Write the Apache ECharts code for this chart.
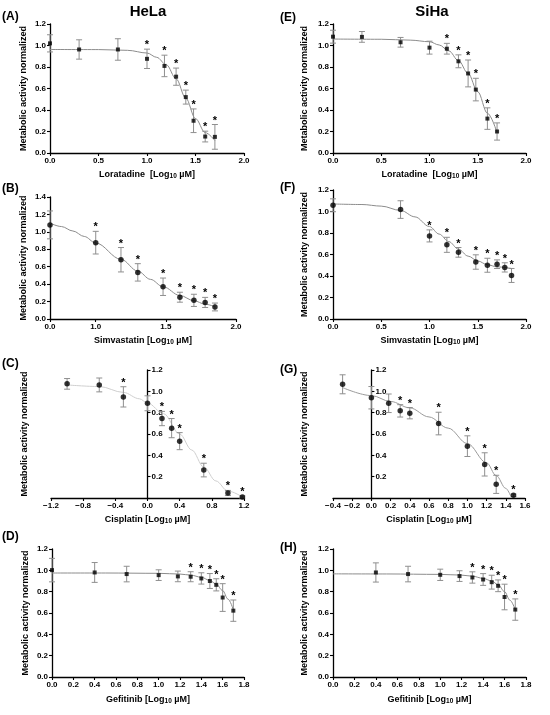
<!DOCTYPE html>
<html>
<head>
<meta charset="utf-8"/>
<title>Metabolic activity – HeLa / SiHa</title>
<script src="https://cdn.jsdelivr.net/npm/echarts@6/dist/echarts.min.js"></script>
<style>
    html, body { margin: 0; padding: 0; background: #fff; }
    #main { width: 550px; height: 715px; }
</style>
</head>
<body>
<div id="main"></div>
<script>
// ---- data (log10 dose, mean, sd, significance flag, fitted curve) ----

// (A) HeLa - Loratadine
var loraHelaDose = [0, 0.30, 0.70, 1.00, 1.18, 1.30, 1.40, 1.48, 1.60, 1.70];
var loraHelaMean = [1.02, 0.963, 0.963, 0.876, 0.81, 0.71, 0.52, 0.30, 0.153, 0.15];
var loraHelaSD   = [0.08, 0.09, 0.10, 0.09, 0.10, 0.08, 0.065, 0.11, 0.05, 0.115];
var loraHelaSig  = [0, 0, 0, 1, 1, 1, 1, 1, 1, 1];
var loraHelaFitX = [0, 0.5, 0.8, 1.0, 1.1, 1.2, 1.3, 1.4, 1.5, 1.6, 1.7];
var loraHelaFitY = [0.963, 0.962, 0.955, 0.93, 0.89, 0.82, 0.69, 0.51, 0.32, 0.19, 0.115];

// (B) HeLa - Simvastatin
var simvHelaDose = [0, 1.00, 1.18, 1.30, 1.48, 1.60, 1.70, 1.78, 1.85];
var simvHelaMean = [1.08, 0.876, 0.68, 0.535, 0.37, 0.25, 0.214, 0.19, 0.138];
var simvHelaSD   = [0.16, 0.13, 0.14, 0.10, 0.10, 0.057, 0.07, 0.058, 0.045];
var simvHelaSig  = [0, 1, 1, 1, 1, 1, 1, 1, 1];
var simvHelaFitX = [0, 0.25, 0.5, 0.75, 1.0, 1.18, 1.3, 1.39, 1.48, 1.6, 1.7, 1.78, 1.85];
var simvHelaFitY = [1.1, 1.061, 1.01, 0.947, 0.872, 0.685, 0.55, 0.455, 0.37, 0.27, 0.21, 0.17, 0.14];

// (C) HeLa - Cisplatin
var cispHelaDose = [-1.0, -0.6, -0.3, 0, 0.18, 0.30, 0.40, 0.70, 1.00, 1.18];
var cispHelaMean = [1.07, 1.06, 0.948, 0.888, 0.745, 0.655, 0.533, 0.262, 0.047, 0.009];
var cispHelaSD   = [0.05, 0.065, 0.095, 0.07, 0.067, 0.09, 0.08, 0.064, 0.024, 0.01];
var cispHelaSig  = [0, 0, 1, 0, 1, 1, 1, 1, 1, 1];
var cispHelaFitX = [-1.0, -0.6, -0.3, -0.1, 0, 0.2, 0.4, 0.55, 0.7, 0.85, 1.0, 1.18];
var cispHelaFitY = [1.06, 1.045, 0.99, 0.93, 0.89, 0.79, 0.6, 0.45, 0.29, 0.16, 0.065, 0.01];

// (D) HeLa - Gefitinib
var gefiHelaDose = [0, 0.40, 0.70, 1.00, 1.18, 1.30, 1.40, 1.48, 1.54, 1.60, 1.70];
var gefiHelaMean = [1.002, 0.98, 0.965, 0.955, 0.943, 0.94, 0.924, 0.90, 0.864, 0.745, 0.622];
var gefiHelaSD   = [0.11, 0.093, 0.073, 0.05, 0.05, 0.047, 0.053, 0.07, 0.057, 0.13, 0.10];
var gefiHelaSig  = [0, 0, 0, 0, 0, 1, 1, 1, 1, 1, 1];
var gefiHelaFitX = [0, 0.5, 1.0, 1.2, 1.3, 1.4, 1.48, 1.54, 1.6, 1.65, 1.7];
var gefiHelaFitY = [0.975, 0.975, 0.972, 0.965, 0.955, 0.935, 0.905, 0.87, 0.81, 0.73, 0.63];

// (E) SiHa - Loratadine
var loraSihaDose = [0, 0.30, 0.70, 1.00, 1.18, 1.30, 1.40, 1.48, 1.60, 1.70];
var loraSihaMean = [1.082, 1.08, 1.03, 0.98, 0.97, 0.853, 0.74, 0.59, 0.32, 0.20];
var loraSihaSD   = [0.06, 0.05, 0.045, 0.06, 0.05, 0.06, 0.125, 0.105, 0.10, 0.08];
var loraSihaSig  = [0, 0, 0, 0, 1, 1, 1, 1, 1, 1];
var loraSihaFitX = [0, 0.5, 0.8, 1.0, 1.1, 1.2, 1.3, 1.4, 1.5, 1.6, 1.7];
var loraSihaFitY = [1.06, 1.058, 1.05, 1.035, 1.005, 0.95, 0.86, 0.74, 0.57, 0.37, 0.19];

// (F) SiHa - Simvastatin
var simvSihaDose = [0, 0.70, 1.00, 1.18, 1.30, 1.48, 1.60, 1.70, 1.78, 1.85];
var simvSihaMean = [1.058, 1.018, 0.773, 0.69, 0.62, 0.53, 0.50, 0.51, 0.48, 0.405];
var simvSihaSD   = [0.06, 0.082, 0.056, 0.07, 0.045, 0.067, 0.065, 0.04, 0.043, 0.065];
var simvSihaSig  = [0, 0, 1, 1, 1, 1, 1, 1, 1, 1];
var simvSihaFitX = [0, 0.3, 0.5, 0.7, 0.85, 1.0, 1.1, 1.2, 1.3, 1.4, 1.5, 1.6, 1.7, 1.85];
var simvSihaFitY = [1.07, 1.065, 1.05, 1.01, 0.95, 0.86, 0.79, 0.72, 0.65, 0.585, 0.54, 0.505, 0.485, 0.47];

// (G) SiHa - Cisplatin
var cispSihaDose = [-0.3, 0, 0.18, 0.30, 0.40, 0.70, 1.00, 1.18, 1.30, 1.48];
var cispSihaMean = [1.066, 0.94, 0.888, 0.817, 0.795, 0.698, 0.486, 0.315, 0.128, 0.025];
var cispSihaSD   = [0.089, 0.105, 0.087, 0.058, 0.053, 0.106, 0.097, 0.109, 0.085, 0.012];
var cispSihaSig  = [0, 0, 0, 1, 1, 1, 1, 1, 1, 1];
var cispSihaFitX = [-0.3, 0, 0.2, 0.4, 0.6, 0.8, 1.0, 1.2, 1.3, 1.4, 1.45];
var cispSihaFitY = [1.035, 0.96, 0.905, 0.845, 0.76, 0.655, 0.51, 0.33, 0.21, 0.09, 0.02];

// (H) SiHa - Gefitinib
var gefiSihaDose = [0.40, 0.70, 1.00, 1.18, 1.30, 1.40, 1.48, 1.54, 1.60, 1.70];
var gefiSihaMean = [0.98, 0.965, 0.958, 0.946, 0.933, 0.914, 0.889, 0.855, 0.75, 0.632];
var gefiSihaSD   = [0.09, 0.073, 0.053, 0.05, 0.053, 0.055, 0.065, 0.055, 0.12, 0.10];
var gefiSihaSig  = [0, 0, 0, 0, 1, 1, 1, 1, 1, 1];
var gefiSihaFitX = [0, 0.5, 1.0, 1.2, 1.3, 1.4, 1.48, 1.54, 1.6, 1.65, 1.7];
var gefiSihaFitY = [0.967, 0.966, 0.962, 0.955, 0.945, 0.925, 0.90, 0.865, 0.80, 0.72, 0.63];

// tick labels of the segmented x axis in (B)
var simvHelaXTicks = [0, 1.0, 1.5, 2.0];

// ---- drawing ----
var FONT = '"Liberation Sans", Arial, sans-serif';
var YNAME = 'Metabolic activity normalized';

// panel (B) has a compressed 0..1 segment on its x axis
var BK = 0.326;
function squeeze(v) { return v <= 1 ? v * BK : BK + (v - 1); }
function unsqueeze(t) { return t <= BK + 1e-9 ? t / BK : t - BK + 1; }

function fmt1(v) {
    var s = Math.abs(v).toFixed(1);
    return v < -1e-9 ? '\u2212' + s : s;
}

var nameStyle = {
    color: '#000', fontSize: 9, fontWeight: 'bold', fontFamily: FONT,
    rich: { sub: { fontSize: 6.5, fontWeight: 'bold', fontFamily: FONT, verticalAlign: 'bottom', padding: [3, 0, 0, 0] } }
};

function renderErr(params, api) {
    var x = api.value(0), y = api.value(1), e = api.value(2), sig = api.value(3);
    var hi = api.coord([x, y + e]), lo = api.coord([x, y - e]);
    var w = 3;
    var st = { stroke: '#8f8f8f', lineWidth: 1 };
    var kids = [];
    if (e > 0) {
        kids.push({ type: 'line', shape: { x1: hi[0], y1: hi[1], x2: lo[0], y2: lo[1] }, style: st });
        kids.push({ type: 'line', shape: { x1: hi[0] - w, y1: hi[1], x2: hi[0] + w, y2: hi[1] }, style: st });
        kids.push({ type: 'line', shape: { x1: lo[0] - w, y1: lo[1], x2: lo[0] + w, y2: lo[1] }, style: st });
    }
    if (sig) {
        kids.push({ type: 'text', style: {
            text: '*', x: hi[0], y: hi[1] - 4, align: 'center', verticalAlign: 'middle',
            font: 'bold 11px ' + FONT, fill: '#000'
        } });
    }
    return { type: 'group', children: kids };
}

var grids = [], xAxes = [], yAxes = [], series = [], extraY = [];

function addPanel(p) {
    var gi = grids.length;
    var tx = p.tx || function (v) { return v; };
    grids.push({ left: p.left, top: p.top, width: p.width, height: p.height });

    var xa = {
        type: 'value', gridIndex: gi, min: p.xMin, max: p.xMax, interval: p.xStep,
        name: p.xName, nameLocation: 'middle', nameGap: p.xGap || 17, nameTextStyle: nameStyle,
        axisLine: { onZero: false, lineStyle: { color: '#000', width: 1.3 } },
        axisTick: { length: 3, lineStyle: { color: '#000', width: 1.1 } },
        axisLabel: { color: '#000', fontSize: 8, fontWeight: 'bold', fontFamily: FONT, margin: 4,
            formatter: p.xFmt || fmt1, showMinLabel: true, showMaxLabel: true },
        splitLine: { show: false }
    };
    if (p.xTicks) {
        delete xa.interval;
        xa.axisLabel.customValues = p.xTicks.map(tx);
        xa.axisTick.customValues = p.xTicks.map(tx);
    }
    xAxes.push(xa);

    // for the cisplatin panels the y axis crosses at dose 0, labels on its right
    var cross = !!p.cross;
    var ya = {
        type: 'value', gridIndex: gi, min: 0, max: p.yMax, interval: 0.2, position: 'left',
        offset: cross ? -p.width * (0 - p.xMin) / (p.xMax - p.xMin) : 0,
        axisLine: { onZero: false, lineStyle: { color: '#000', width: 1.3 } },
        axisTick: { length: 3, inside: cross, lineStyle: { color: '#000', width: 1.1 } },
        axisLabel: { color: '#000', fontSize: 8, fontWeight: 'bold', fontFamily: FONT, margin: 4,
            inside: cross,
            formatter: function (v) { return (cross && v === 0) ? '' : v.toFixed(1); } },
        splitLine: { show: false }
    };
    if (!cross) {
        ya.name = YNAME; ya.nameLocation = 'middle'; ya.nameGap = p.yGap || 22;
        ya.nameTextStyle = nameStyle;
    } else {
        // name holder sitting at the grid's left edge
        extraY.push({
            type: 'value', gridIndex: gi, min: 0, max: p.yMax, position: 'left',
            name: YNAME, nameLocation: 'middle', nameGap: p.yGap || 22, nameTextStyle: nameStyle,
            axisLine: { show: false, onZero: false }, axisTick: { show: false },
            axisLabel: { show: false }, splitLine: { show: false }
        });
    }
    yAxes.push(ya);

    series.push({
        type: 'line', xAxisIndex: gi, yAxisIndex: gi, z: 2, silent: true,
        showSymbol: false, smooth: 0.35, smoothMonotone: 'x',
        lineStyle: { color: p.fitColor || '#8c8c8c', width: 1 },
        data: p.fitX.map(function (d, i) { return [tx(d), p.fitY[i]]; })
    });
    series.push({
        type: 'custom', xAxisIndex: gi, yAxisIndex: gi, z: 3, silent: true, clip: false,
        renderItem: renderErr, encode: { x: 0, y: 1 },
        data: p.dose.map(function (d, i) { return [tx(d), p.mean[i], p.sd[i], p.sig[i]]; })
    });
    series.push({
        type: 'scatter', xAxisIndex: gi, yAxisIndex: gi, z: 4, silent: true,
        symbol: p.symbol, symbolSize: p.size, itemStyle: { color: '#000' },
        data: p.dose.map(function (d, i) { return [tx(d), p.mean[i]]; })
    });
}

function xName(drug) { return drug + '[Log{sub|10} \u00b5M]'; }

// left column: HeLa
addPanel({ left: 50, top: 24, width: 194, height: 129, xMin: 0, xMax: 2, xStep: 0.5, yMax: 1.2,
    xName: xName('Loratadine  '), dose: loraHelaDose, mean: loraHelaMean, sd: loraHelaSD, sig: loraHelaSig,
    fitX: loraHelaFitX, fitY: loraHelaFitY, symbol: 'rect', size: 4 });
addPanel({ left: 50, top: 197, width: 186, height: 122, xMin: 0, xMax: squeeze(2), yMax: 1.4,
    xTicks: simvHelaXTicks, tx: squeeze, xFmt: function (v) { return unsqueeze(v).toFixed(1); },
    xName: xName('Simvastatin '), dose: simvHelaDose, mean: simvHelaMean, sd: simvHelaSD, sig: simvHelaSig,
    fitX: simvHelaFitX, fitY: simvHelaFitY, symbol: 'circle', size: 5.5 });
addPanel({ left: 51, top: 370, width: 193, height: 128, xMin: -1.2, xMax: 1.2, xStep: 0.4, yMax: 1.2, cross: true,
    xName: xName('Cisplatin '), dose: cispHelaDose, mean: cispHelaMean, sd: cispHelaSD, sig: cispHelaSig,
    fitX: cispHelaFitX, fitY: cispHelaFitY, symbol: 'circle', size: 5.5, fitColor: '#cfcfcf' });
addPanel({ left: 52, top: 549, width: 192, height: 128, xMin: 0, xMax: 1.8, xStep: 0.2, yMax: 1.2,
    xName: xName('Gefitinib '), dose: gefiHelaDose, mean: gefiHelaMean, sd: gefiHelaSD, sig: gefiHelaSig,
    fitX: gefiHelaFitX, fitY: gefiHelaFitY, symbol: 'rect', size: 4, xGap: 18 });

// right column: SiHa
addPanel({ left: 333, top: 24, width: 193, height: 129, xMin: 0, xMax: 2, xStep: 0.5, yMax: 1.2,
    xName: xName('Loratadine  '), dose: loraSihaDose, mean: loraSihaMean, sd: loraSihaSD, sig: loraSihaSig,
    fitX: loraSihaFitX, fitY: loraSihaFitY, symbol: 'rect', size: 4, yGap: 24 });
addPanel({ left: 333, top: 190, width: 193, height: 129, xMin: 0, xMax: 2, xStep: 0.5, yMax: 1.2,
    xName: xName('Simvastatin '), dose: simvSihaDose, mean: simvSihaMean, sd: simvSihaSD, sig: simvSihaSig,
    fitX: simvSihaFitX, fitY: simvSihaFitY, symbol: 'circle', size: 5.5, yGap: 24 });
addPanel({ left: 333, top: 370, width: 192, height: 128, xMin: -0.4, xMax: 1.6, xStep: 0.2, yMax: 1.2, cross: true,
    xName: xName('Cisplatin '), dose: cispSihaDose, mean: cispSihaMean, sd: cispSihaSD, sig: cispSihaSig,
    fitX: cispSihaFitX, fitY: cispSihaFitY, symbol: 'circle', size: 5.5, fitColor: '#9a9a9a', yGap: 24 });
addPanel({ left: 333, top: 549, width: 193, height: 128, xMin: 0, xMax: 1.8, xStep: 0.2, yMax: 1.2,
    xName: xName('Gefitinib '), dose: gefiSihaDose, mean: gefiSihaMean, sd: gefiSihaSD, sig: gefiSihaSig,
    fitX: gefiSihaFitX, fitY: gefiSihaFitY, symbol: 'rect', size: 4, xGap: 18, yGap: 24 });

function label(text, x, y, size, align) {
    return { type: 'text', x: x, y: y, style: {
        text: text, font: 'bold ' + size + 'px ' + FONT, fill: '#000',
        align: align || 'left', verticalAlign: 'top' } };
}

var chart = echarts.init(document.getElementById('main'));
chart.setOption({
    animation: false,
    grid: grids,
    xAxis: xAxes,
    yAxis: yAxes.concat(extraY),
    series: series,
    graphic: [
        label('HeLa', 148, 4, 15, 'center'),
        label('SiHa', 432, 4, 15, 'center'),
        label('(A)', 2, 11, 12), label('(B)', 2, 183, 12),
        label('(C)', 2, 358, 12), label('(D)', 2, 531, 12),
        label('(E)', 280, 12, 12), label('(F)', 280, 182, 12),
        label('(G)', 280, 364, 12), label('(H)', 280, 542, 12)
    ]
});
</script>
</body>
</html>
